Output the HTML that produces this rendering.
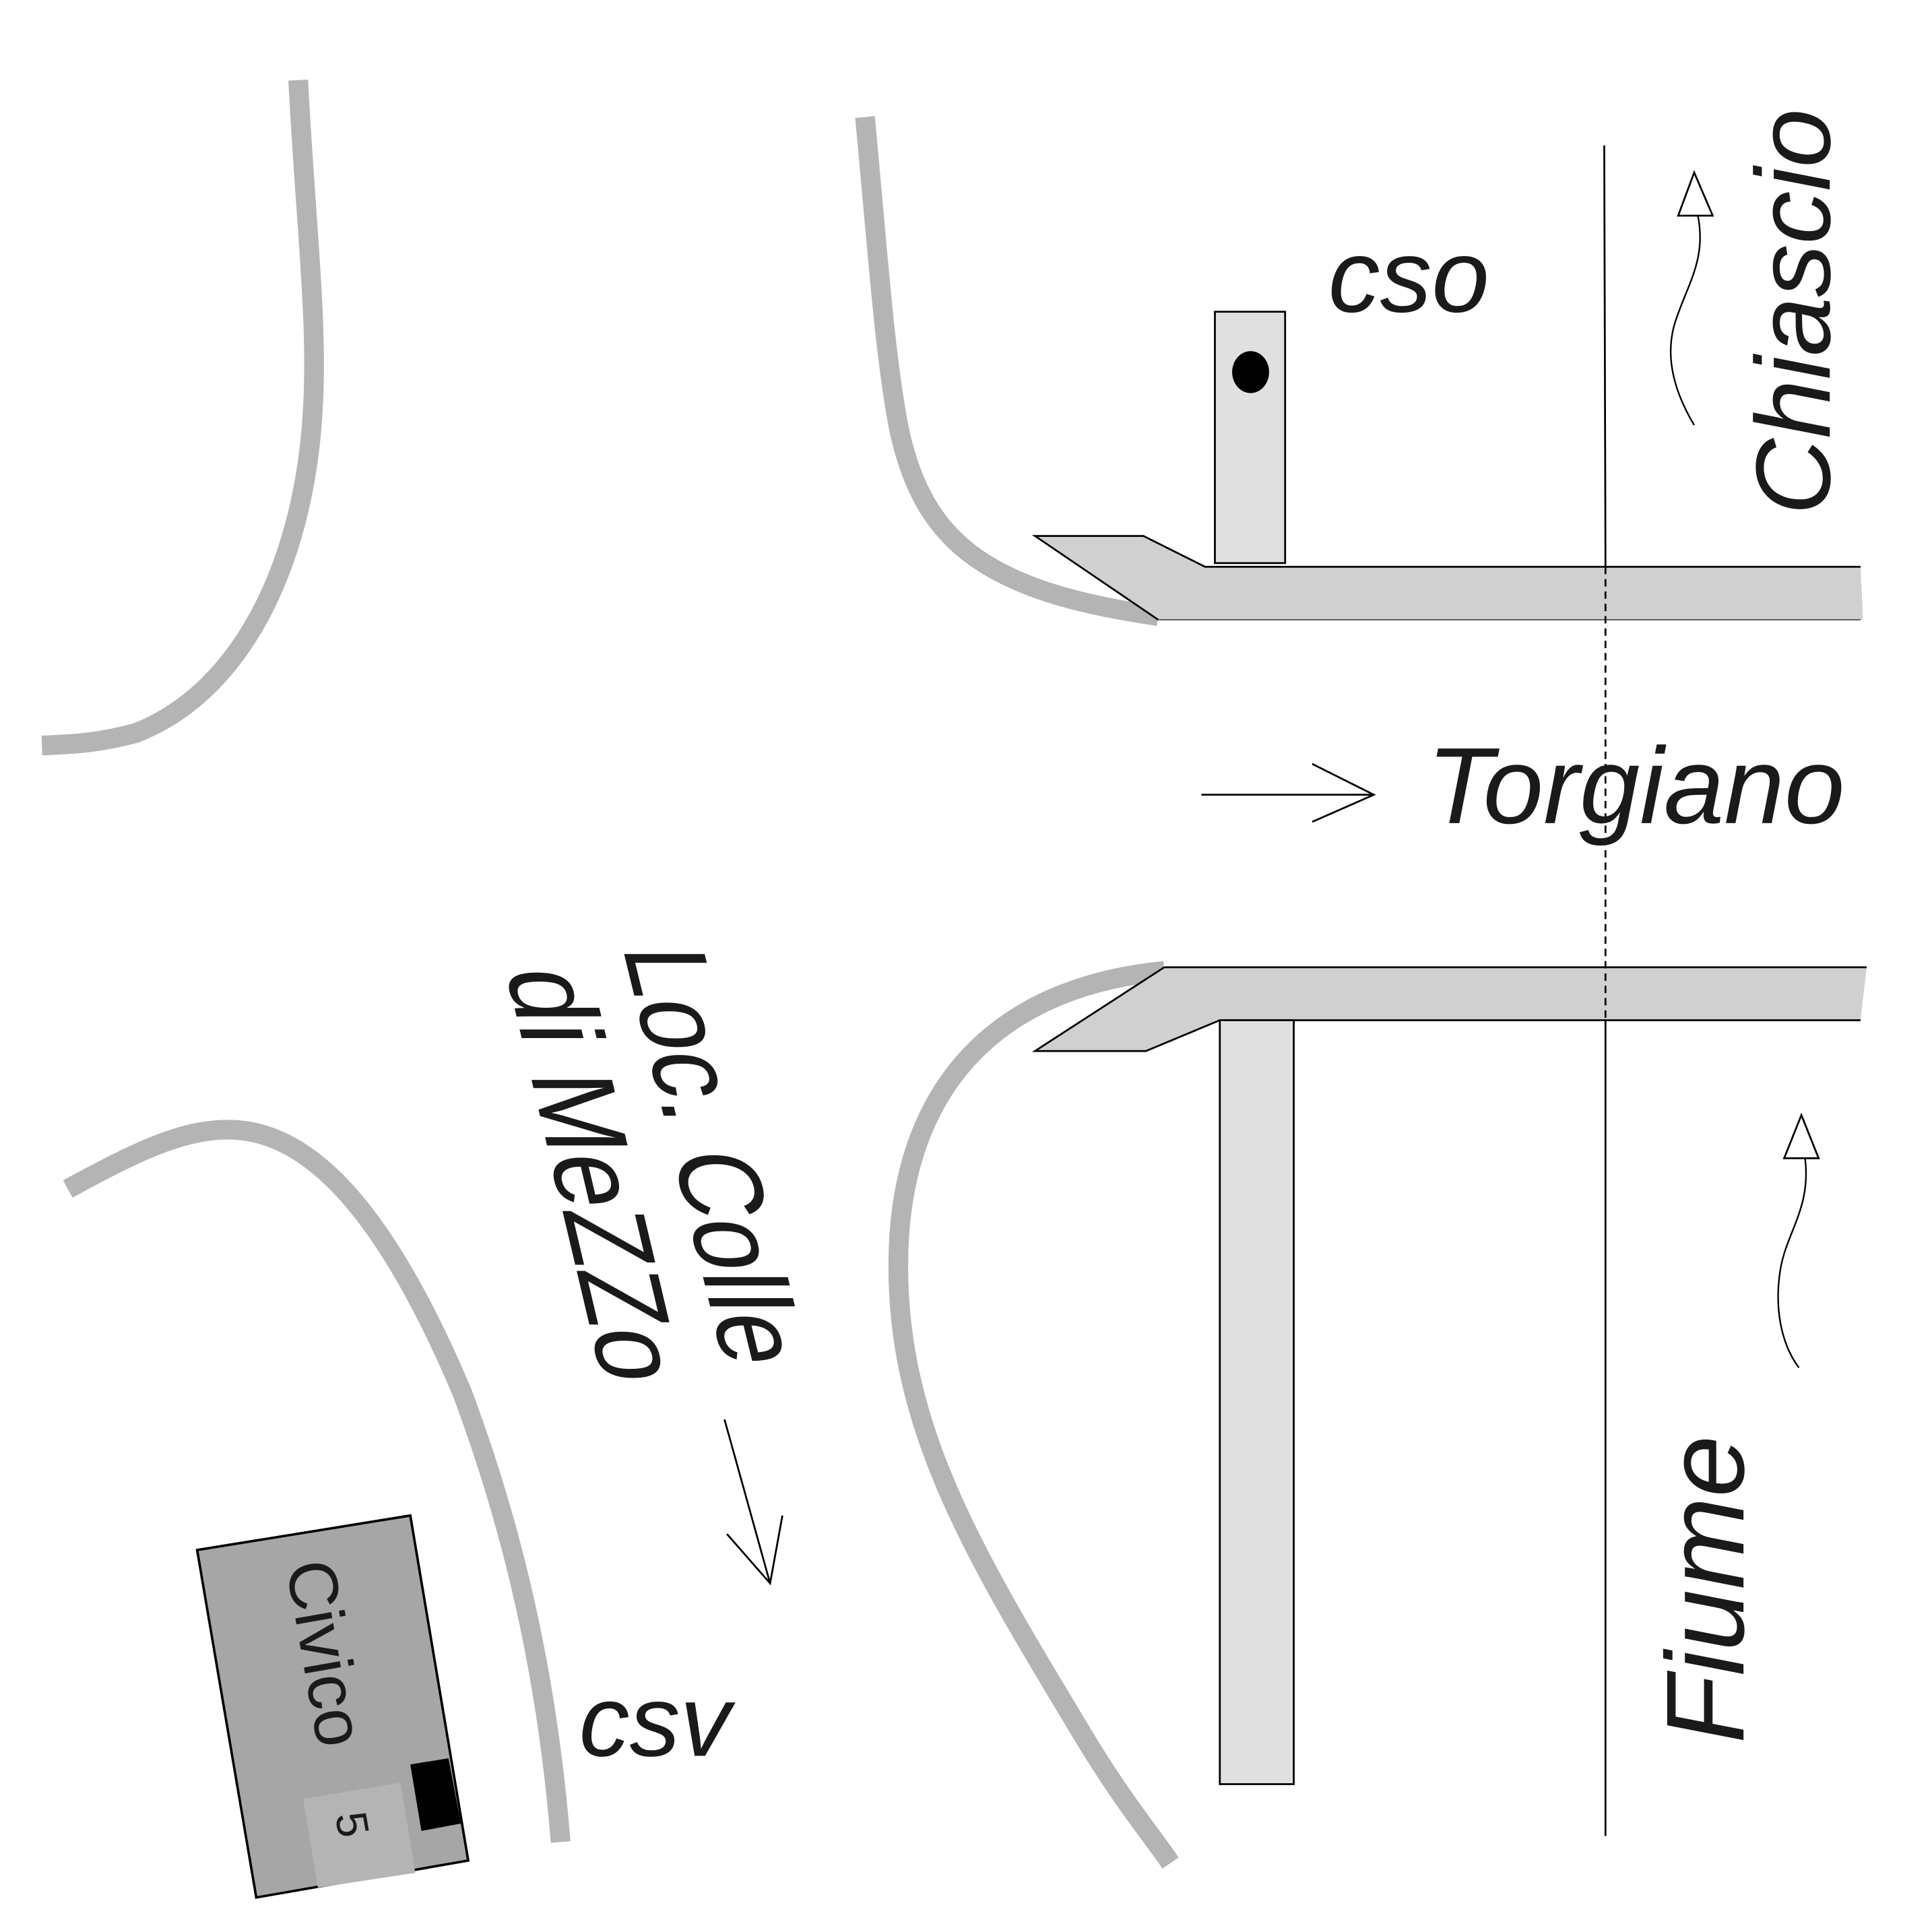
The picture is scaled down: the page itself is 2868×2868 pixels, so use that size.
<!DOCTYPE html>
<html><head><meta charset="utf-8"><style>
html,body{margin:0;padding:0;background:#fff}
svg{display:block}
text{font-family:"Liberation Sans",Arial,sans-serif;fill:#1a1a1a}
</style></head><body>
<svg width="2868" height="2868" viewBox="0 0 1568 1568" xmlns="http://www.w3.org/2000/svg">
<g fill="none" stroke="#b4b4b4" stroke-width="16">
<path d="M242,65 C248,180 258,260 254,330 C248,450 200,560 110,595 C80,603 60,604 34,605"/>
<path d="M702,95 C712,200 718,290 730,350 C750,440 800,480 940,500"/>
<path d="M945,788 C820,800 740,870 730,1000 C720,1150 790,1260 880,1410 C910,1460 935,1490 950,1512"/>
<path d="M55,965 C110,935 150,915 190,917 C260,920 320,1000 375,1130 C420,1250 445,1370 455,1495"/>
</g>
<polygon points="840,435 928,435 978,460 1510,460 1512,503 940,503" fill="#d0d0d0"/>
<polyline points="940,503 840,435 928,435 978,460 1510,460" fill="none" stroke="#000" stroke-width="1.5"/>
<line x1="940" y1="503" x2="1510" y2="503" stroke="#555" stroke-width="1"/>
<rect x="986" y="253" width="57" height="204" fill="#e0e0e0" stroke="#000" stroke-width="1.5"/>
<ellipse cx="1015" cy="302" rx="15" ry="17" fill="#000"/>
<polygon points="840,853 930,853 990,828 1510,828 1515,785 945,785" fill="#d0d0d0"/>
<polyline points="945,785 840,853 930,853 990,828 1510,828" fill="none" stroke="#000" stroke-width="1.5"/>
<line x1="945" y1="785" x2="1515" y2="785" stroke="#000" stroke-width="1.5"/>
<rect x="990" y="828" width="60" height="620" fill="#e0e0e0" stroke="#000" stroke-width="1.5"/>
<line x1="1302" y1="118" x2="1303" y2="460" stroke="#000" stroke-width="1.5"/>
<line x1="1303" y1="460" x2="1303" y2="828" stroke="#000" stroke-width="1.5" stroke-dasharray="6,4"/>
<line x1="1303" y1="828" x2="1303" y2="1490" stroke="#000" stroke-width="1.5"/>
<path d="M1375,345 C1360,320 1350,290 1360,260 C1370,230 1385,210 1378,175" fill="none" stroke="#000" stroke-width="1.3"/>
<polygon points="1375,140 1362,175 1390,175" fill="#fff" stroke="#000" stroke-width="1.5"/>
<path d="M1460,1110 C1445,1090 1440,1060 1445,1030 C1450,1000 1470,980 1465,940" fill="none" stroke="#000" stroke-width="1.3"/>
<polygon points="1462,905 1448,940 1476,940" fill="#fff" stroke="#000" stroke-width="1.5"/>
<line x1="975" y1="645" x2="1115" y2="645" stroke="#000" stroke-width="1.5"/>
<polyline points="1065,620 1115,645 1065,667" fill="none" stroke="#000" stroke-width="1.5"/>
<line x1="588" y1="1152" x2="625" y2="1285" stroke="#000" stroke-width="1.5"/>
<polyline points="590,1245 625,1285 635,1230" fill="none" stroke="#000" stroke-width="1.5"/>
<text x="1078" y="253" font-size="84" font-style="italic">cso</text>
<text x="470" y="1425" font-size="82" font-style="italic">csv</text>
<text x="1158" y="668" font-size="88" font-style="italic">Torgiano</text>
<text transform="translate(1485,418) rotate(-90)" font-size="86" font-style="italic">Chiascio</text>
<text transform="translate(1415,1415) rotate(-90)" font-size="90" font-style="italic">Fiume</text>
<text transform="matrix(0.237,0.971,-1,0,505,768)" font-size="95" textLength="350" lengthAdjust="spacingAndGlyphs">Loc. Colle</text>
<text transform="matrix(0.23,0.973,-1,0,410,786)" font-size="95" textLength="345" lengthAdjust="spacingAndGlyphs">di MeZZo</text>
<polygon points="160,1258 333,1230 380,1510 208,1540" fill="#a6a6a6" stroke="#000" stroke-width="2"/>
<polygon points="246,1460 325,1447 337,1520 258,1532" fill="#b4b4b4"/>
<polygon points="333,1432 364,1427 374,1480 342,1486" fill="#000"/>
<text transform="translate(232,1270) rotate(80)" font-size="56">Civico</text>
<text transform="translate(272,1473) rotate(80)" font-size="36">5</text>
</svg>
</body></html>
